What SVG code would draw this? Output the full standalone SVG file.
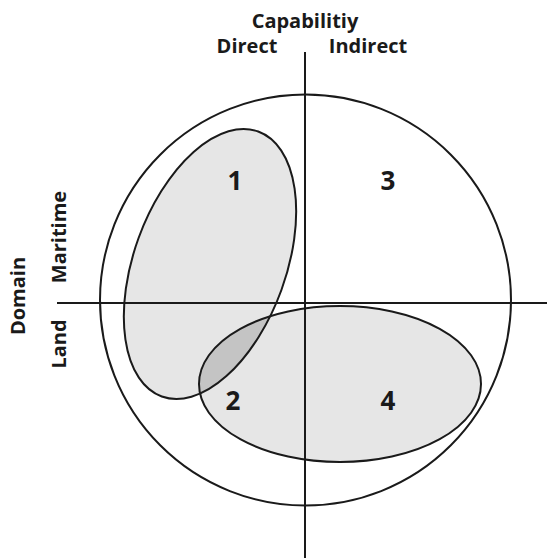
<svg xmlns="http://www.w3.org/2000/svg" width="547" height="558" viewBox="0 0 547 558">
<style>
.lbl{font-family:"Open Sans","Liberation Sans",sans-serif;font-weight:bold;font-size:20px;fill:#1a1a1a;text-anchor:middle}
.num{font-family:"Open Sans","Liberation Sans",sans-serif;font-weight:bold;font-size:26px;fill:#1a1a1a;text-anchor:middle}
.ln{stroke:#1a1a1a;stroke-width:2;fill:none}
</style>
<defs>
<clipPath id="c1"><ellipse cx="210" cy="264" rx="76" ry="141" transform="rotate(20 210 264)"/></clipPath>
</defs>
<rect width="547" height="558" fill="#ffffff"/>
<g id="regions">
<ellipse id="set1-fill" cx="210" cy="264" rx="76" ry="141" transform="rotate(20 210 264)" fill="#e6e6e6"/>
<ellipse id="set2-fill" cx="340" cy="384" rx="141" ry="78" fill="#e6e6e6"/>
<ellipse id="overlap" cx="340" cy="384" rx="141" ry="78" fill="#c4c4c4" clip-path="url(#c1)"/>
</g>
<g id="connectors">
<line class="ln" x1="305" y1="52" x2="305" y2="558"/>
<line class="ln" x1="57" y1="303" x2="547" y2="303"/>
</g>
<g id="circle"><circle class="ln" cx="305.5" cy="300" r="205.5"/></g>
<g id="node1"><ellipse class="ln" cx="210" cy="264" rx="76" ry="141" transform="rotate(20 210 264)"/><text class="num" x="235" y="190">1</text></g>
<g id="node2"><ellipse class="ln" cx="340" cy="384" rx="141" ry="78"/></g>
<g id="labels">
<text class="num" x="233" y="410">2</text>
<text class="num" x="388" y="190">3</text>
<text class="num" x="388" y="410">4</text>
<text class="lbl" x="305" y="28">Capabilitiy</text>
<text class="lbl" x="247" y="53">Direct</text>
<text class="lbl" x="368" y="53">Indirect</text>
<text class="lbl" transform="translate(25 296) rotate(-90)">Domain</text>
<text class="lbl" transform="translate(66 237) rotate(-90)">Maritime</text>
<text class="lbl" transform="translate(66 344) rotate(-90)">Land</text>
</g>
</svg>
